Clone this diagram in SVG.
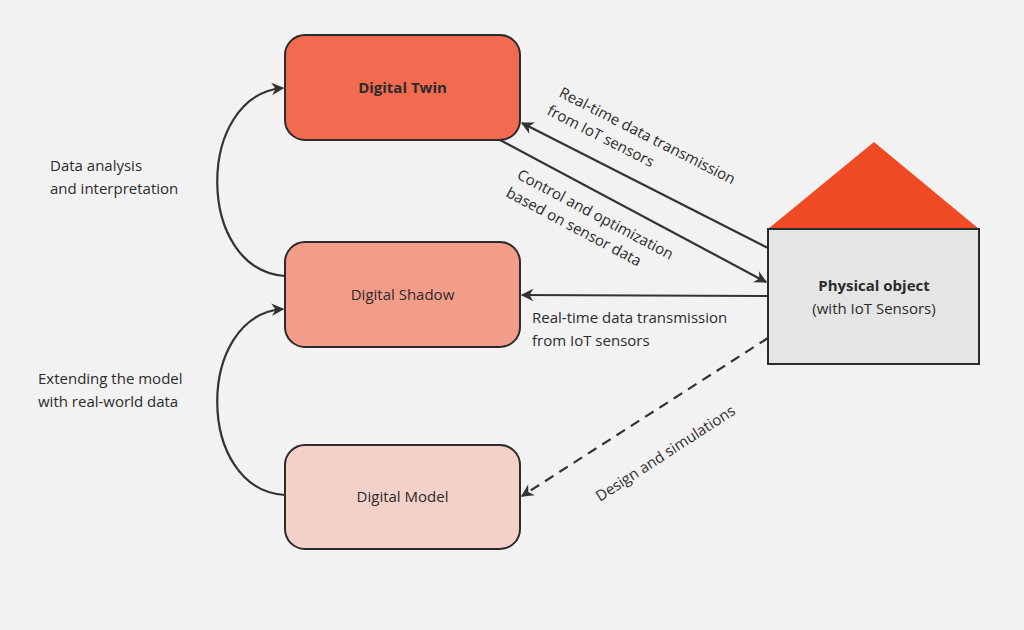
<svg xmlns="http://www.w3.org/2000/svg" width="1024" height="630" viewBox="0 0 1024 630">
<defs>
<style>
text{font-family:"Open Sans","Noto Sans",sans-serif;font-size:15px;fill:#2b2b2b}
.box{stroke:#2b2b2b;stroke-width:2}
.c{fill:none;stroke:#333;stroke-width:2.2}
</style>
<marker id="a" viewBox="0 0 10 10" refX="9" refY="5" markerWidth="7" markerHeight="7" orient="auto" markerUnits="userSpaceOnUse" style="overflow:visible"><path d="M0,0 L10,5 L0,10 L3,5 z" fill="#333" transform="scale(1.8) translate(-4,-2.2)"/></marker>
</defs>
<rect width="1024" height="630" fill="#f2f2f2"/>
<g id="connectors">
<path class="c" d="M768,248 L522,123" marker-end="url(#a)"/>
<path class="c" d="M500,140 L766,282" marker-end="url(#a)"/>
<path class="c" d="M768,296 L522,295" marker-end="url(#a)"/>
<path class="c" d="M768,338 L522,496" stroke-dasharray="10,7" marker-end="url(#a)"/>
<path class="c" d="M285,276 C195,270 195,95 283,88" marker-end="url(#a)"/>
<path class="c" d="M285,495 C195,490 195,315 283,309" marker-end="url(#a)"/>
<text transform="translate(558,96) rotate(27)">Real-time data transmission</text>
<text transform="translate(546,114) rotate(27)">from IoT sensors</text>
<text transform="translate(516,178) rotate(28)">Control and optimization</text>
<text transform="translate(505,196) rotate(28)">based on sensor data</text>
<text x="532" y="323">Real-time data transmission</text>
<text x="532" y="346">from IoT sensors</text>
<text transform="translate(600,502) rotate(-33)">Design and simulations</text>
<text x="50" y="171">Data analysis</text>
<text x="50" y="194">and interpretation</text>
<text x="38" y="384">Extending the model</text>
<text x="38" y="407">with real-world data</text>
</g>
<g id="twin"><rect class="box" x="285" y="35" width="235" height="105" rx="20" fill="#f26b50"/><text x="402.5" y="93" text-anchor="middle" font-weight="bold">Digital Twin</text></g>
<g id="shadow"><rect class="box" x="285" y="242" width="235" height="105" rx="20" fill="#f49c8a"/><text x="402.5" y="300" text-anchor="middle">Digital Shadow</text></g>
<g id="model"><rect class="box" x="285" y="445" width="235" height="104" rx="20" fill="#f3d1c9"/><text x="402.5" y="502" text-anchor="middle">Digital Model</text></g>
<g id="physical">
<polygon points="768,229 874,142 979,229" fill="#f04a25"/>
<rect x="768" y="229" width="211" height="135" fill="#e5e5e5" stroke="#2b2b2b" stroke-width="2"/>
<text x="874" y="291" text-anchor="middle" font-weight="bold">Physical object</text>
<text x="874" y="314" text-anchor="middle">(with IoT Sensors)</text>
</g>
</svg>
